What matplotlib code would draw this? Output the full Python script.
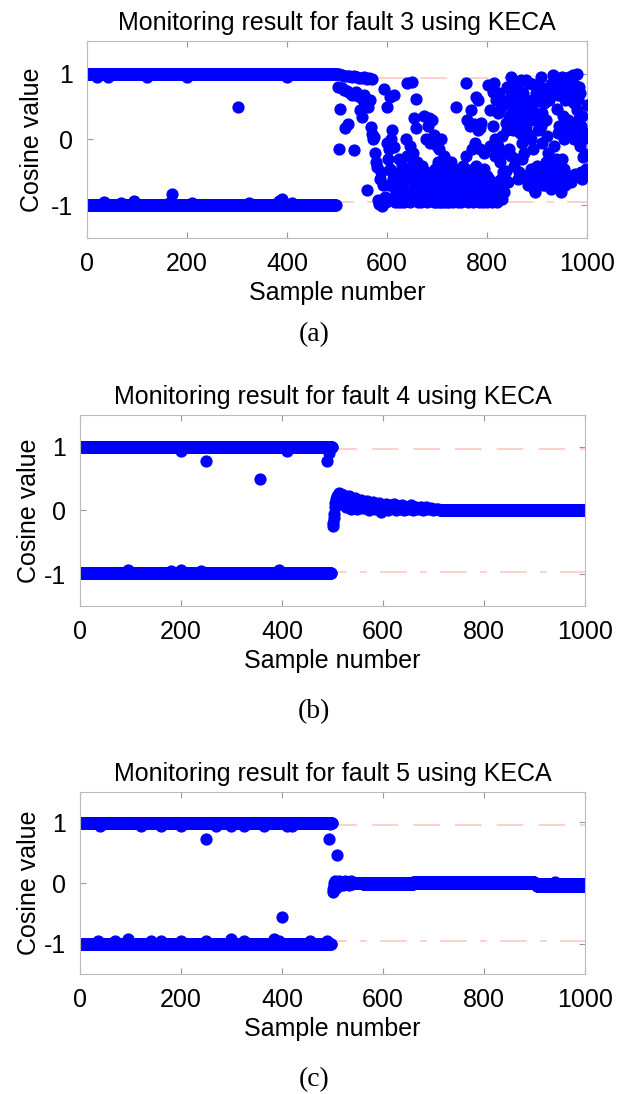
import numpy as np
import matplotlib
matplotlib.use("Agg")
import matplotlib.pyplot as plt

plt.rcParams['font.family'] = ['Liberation Sans', 'DejaVu Sans']
plt.rcParams['axes.unicode_minus'] = False

# ---- data (sample number, cosine value) ----
titles = ["Monitoring result for fault 3 using KECA",
          "Monitoring result for fault 4 using KECA",
          "Monitoring result for fault 5 using KECA"]
captions = ["(a)", "(b)", "(c)"]
limits = [(0.94, -0.95), (0.965, -0.968), (0.96, -0.96)]

# flat runs of points: (first sample, last sample, value)
fault3_bands = [(1, 500, 0.99), (1, 498, -1.0)]
fault4_bands = [(1, 500, 0.99), (1, 498, -0.99), (712, 1000, 0.015)]
fault5_bands = [(1, 500, 0.99), (1, 498, -1.0), (540, 900, 0.005),
                (560, 660, -0.02), (660, 900, 0.015), (900, 1000, -0.015),
                (905, 1000, -0.045)]

fault3_points = [
    (20, 0.95), (42, 0.95), (120, 0.95), (200, 0.95), (400, 0.95),
    (35, -0.95), (68, -0.96), (95, -0.94), (165, -0.96), (210, -0.96),
    (325, -0.96), (385, -0.94), (410, -0.96),
    (302, 0.49), (170, -0.83), (390, -0.90),
    (505, 0.99), (510, 0.98), (515, 0.97), (520, 0.97), (525, 0.96), (530, 0.95),
    (535, 0.96), (540, 0.95), (545, 0.94), (550, 0.93), (555, 0.95), (560, 0.92),
    (565, 0.93), (570, 0.92),
    (502, 0.80), (505, -0.14), (507, 0.47), (510, 0.78), (514, 0.75), (516, 0.17),
    (520, 0.73), (523, 0.24), (526, 0.70), (530, 0.68), (535, -0.16), (538, 0.72),
    (542, 0.66), (547, 0.45), (550, 0.34), (552, 0.60), (555, 0.68), (558, 0.55),
    (560, -0.77), (563, 0.50), (566, 0.60),
    (568, 0.19), (570, 0.08), (572, 0.0), (575, 0.04), (576, -0.2), (578, -0.35),
    (580, -0.42), (582, -0.92), (584, -0.98), (586, -0.6), (588, -0.5), (590, -1.02),
    (592, -0.7), (594, 0.76), (596, -0.88), (598, -0.95), (600, 0.5), (601, -0.05),
    (603, -0.3), (605, -0.15), (606, 0.65), (607, -0.45), (609, 0.0), (610, 0.14),
    (612, -0.6), (614, -0.11), (615, 0.67), (617, -0.75), (619, -0.85), (620, -0.55),
    (622, -0.95), (624, -0.3), (626, -0.7), (628, -0.88), (630, -0.4), (632, -0.65),
    (634, -0.95), (636, -0.8), (638, 0.0), (640, 0.86), (641, -0.25),
    (643, -0.5), (645, -0.6), (647, -0.1), (648, -0.9), (650, 0.88), (651, -0.4),
    (653, -0.75), (655, 0.32), (656, -0.85), (658, 0.62), (659, 0.17), (660, -0.35),
    (662, -0.95), (664, -0.65), (666, -0.45), (668, -0.8), (670, -0.55), (672, -0.92),
    (675, 0.35), (676, -0.7), (678, 0.0), (680, -0.6), (682, 0.2), (684, -0.88),
    (685, 0.32), (687, -0.05), (689, -0.75), (690, 0.3), (692, -0.5), (694, -0.95),
    (695, 0.07), (697, -0.65), (699, -0.85), (700, -0.1),
    (702, -0.35), (704, -0.95), (705, -0.15), (707, -0.6), (708, 0.0), (710, -0.8),
    (712, -0.45), (715, -0.25), (717, -0.9), (719, -0.7), (722, -0.4), (724, -0.55),
    (726, -0.85), (729, -0.35), (731, -0.65), (733, -0.95), (735, -0.45), (737, -0.75),
    (739, 0.5), (741, -0.6), (743, -0.88), (745, -0.5), (748, -0.7), (750, -0.8),
    (752, -0.4), (754, -0.92), (756, -0.6), (758, -0.25), (759, 0.86), (760, 0.3),
    (762, -0.7), (764, -0.85), (766, 0.2), (767, -0.5), (769, 0.45), (770, -0.15),
    (772, -0.95), (774, -0.6), (775, 0.24), (776, -0.05), (778, -0.4), (779, 0.65),
    (780, -0.85), (782, 0.6), (783, 0.15), (785, -0.65), (786, -0.15), (787, 0.17),
    (789, 0.25), (790, -0.5), (792, -0.75), (794, -0.2), (796, -0.6), (798, -0.9),
    (800, -0.55), (802, -0.85), (803, 0.83), (805, -0.7), (806, 0.45), (807, -0.1),
    (809, 0.82), (810, -0.95), (812, 0.2), (813, 0.72), (815, 0.86), (816, 0.0),
    (817, -0.25), (818, 0.6), (820, -0.95), (822, 0.4), (823, -0.1), (825, 0.7),
    (826, -0.35), (828, -0.6), (829, 0.5), (830, 0.05), (831, -0.9),
    (833, -0.5), (835, 0.55), (836, -0.2), (838, 0.25), (839, -0.48), (841, 0.15),
    (843, -0.65), (844, -0.15), (846, 0.75), (848, 0.95), (849, -0.25), (851, 0.5),
    (853, 0.3), (855, -0.4), (856, 0.7), (858, 0.85), (860, 0.45), (862, -0.6),
    (863, 0.25), (865, 0.75), (867, 0.6), (869, 0.4), (871, -0.05), (873, 0.55),
    (875, 0.35), (877, -0.55), (879, 0.2), (880, 0.1), (882, -0.7), (884, 0.86),
    (886, 0.5), (888, 0.0), (889, -0.45), (890, 0.85), (892, -0.6), (893, -0.15),
    (895, 0.42), (897, -0.8), (898, 0.7), (900, -0.4),
    (902, 0.58), (903, 0.15), (905, -0.5), (906, 0.8), (908, 0.95), (909, 0.2),
    (910, -0.05), (912, -0.7), (914, -0.55), (916, 0.72), (918, -0.35), (920, 0.05),
    (921, -0.6), (923, -0.2), (924, 0.8), (926, -0.45), (928, -0.75), (930, -0.4),
    (932, 0.98), (934, -0.1), (936, 0.92), (937, -0.65), (939, -0.3), (940, 0.47),
    (942, 0.1), (943, 0.67), (944, -0.55), (946, -0.32), (948, -0.8), (950, 0.95),
    (951, -0.3), (953, -0.5), (955, 0.0), (957, -0.7), (959, 0.9), (961, 0.75),
    (962, 0.3), (963, 0.05), (965, 0.95), (966, -0.55), (968, -0.65), (969, 0.85),
    (970, 0.7), (972, 0.98), (973, 0.25), (974, 0.55), (975, 0.0), (977, -0.52),
    (978, 0.82), (980, 1.0), (981, 0.45), (982, 0.3), (983, 0.62), (985, -0.55),
    (986, -0.1), (988, -0.49), (989, 0.2), (990, 0.35), (992, -0.26), (993, 0.0),
    (995, -0.5), (996, -0.22), (998, -0.45), (1000, 0.52),
    # extra readings in the crowded lower part
    (604, -0.7), (608, -0.9), (611, -0.5), (616, -0.95), (621, -0.75),
    (625, -0.55), (629, -0.95), (633, -0.5), (637, -0.6), (639, -0.9),
    (644, -0.8), (646, -0.95), (649, -0.55), (652, -0.2), (654, -0.6),
    (657, -0.5), (661, -0.7), (663, -0.85), (667, -0.6), (669, -0.95),
    (671, -0.4), (673, -0.7), (677, -0.85), (679, -0.5), (681, -0.95),
    (683, -0.7), (686, -0.6), (688, -0.9), (691, -0.8), (693, -0.65),
    (696, -0.45), (698, -0.95), (701, -0.7), (703, -0.55), (706, -0.85),
    (709, -0.95), (711, -0.6), (713, -0.75), (714, -0.95), (716, -0.55),
    (718, -0.8), (720, -0.95), (721, -0.6), (723, -0.75), (725, -0.95),
    (727, -0.55), (728, -0.7), (730, -0.85), (732, -0.5), (734, -0.6),
    (736, -0.9), (738, -0.65), (740, -0.8), (742, -0.95), (744, -0.7),
    (746, -0.85), (747, -0.6), (749, -0.95), (751, -0.65), (753, -0.75),
    (755, -0.85), (757, -0.5), (761, -0.6), (763, -0.95), (765, -0.75),
    (768, -0.65), (771, -0.8), (773, -0.45), (777, -0.75), (781, -0.7),
    (784, -0.95), (788, -0.85), (791, -0.65), (793, -0.95), (795, -0.45),
    (797, -0.75), (799, -0.65), (801, -0.95), (804, -0.6), (808, -0.8),
    (811, -0.7), (814, -0.85), (819, -0.8), (821, -0.65), (824, -0.75),
    (827, -0.85), (832, -0.7), (834, -0.8), (837, -0.6), (840, 0.8),
    (842, 0.6), (845, 0.35), (847, 0.55), (850, 0.8), (852, 0.15),
    (854, 0.65), (857, 0.2), (859, -0.3), (861, 0.8), (864, -0.5),
    (866, 0.1), (868, 0.9), (870, -0.3), (872, 0.7), (874, -0.2),
    (876, 0.6), (878, 0.9), (881, 0.45), (883, -0.55), (885, 0.3),
    (887, -0.65), (891, 0.6), (894, -0.75), (896, 0.3), (899, -0.55),
    (901, -0.7), (904, 0.65), (907, -0.6), (911, 0.4), (913, -0.45),
    (915, 0.55), (917, -0.7), (919, 0.3), (922, -0.5), (925, 0.6),
    (927, -0.6), (929, 0.85), (931, -0.55), (933, 0.75), (935, -0.45),
    (938, 0.85), (941, -0.65), (945, 0.2), (947, -0.6), (949, 0.8),
    (952, 0.35), (954, -0.45), (956, 0.6), (958, -0.55), (960, 0.15),
    (964, 0.8), (967, 0.6), (971, 0.9), (976, 0.75), (979, 0.15),
    (984, 0.8), (987, 0.7), (991, -0.6), (994, -0.55), (997, 0.1),
]

fault4_points = [
    (200, 0.94), (410, 0.94), (493, 0.90),
    (250, 0.77), (357, 0.49), (490, 0.77),
    (95, -0.94), (180, -0.95), (200, -0.94), (240, -0.95), (395, -0.94),
    (501, -0.25), (502, -0.2), (503, -0.12), (504, -0.05), (505, 0.05), (506, 0.12),
    (507, 0.18), (508, 0.22), (510, 0.25), (512, 0.27), (514, 0.2), (516, 0.26),
    (518, 0.15), (520, 0.24), (522, 0.1), (524, 0.22), (526, 0.05), (528, 0.2),
    (530, 0.12), (533, 0.22), (536, 0.03), (539, 0.18), (542, 0.08), (545, 0.2),
    (548, 0.02), (551, 0.15), (554, 0.1), (557, 0.17), (560, 0.04), (563, 0.14),
    (566, 0.07), (569, 0.15), (572, 0.0), (575, 0.12), (578, 0.05), (581, 0.13),
    (584, 0.02), (587, 0.1), (590, 0.06), (593, 0.12), (596, -0.02), (599, 0.09),
    (602, 0.03), (606, 0.1), (610, 0.0), (614, 0.08), (618, 0.04), (622, 0.1),
    (626, 0.01), (630, 0.07), (634, 0.03), (638, 0.09), (642, 0.0), (646, 0.06),
    (650, 0.02), (655, 0.08), (660, 0.01), (665, 0.06), (670, 0.02), (675, 0.05),
    (680, 0.01), (685, 0.05), (690, 0.02), (695, 0.04), (700, 0.01), (705, 0.03),
    (710, 0.02),
]

fault5_points = [
    (40, 0.94), (120, 0.94), (160, 0.94), (200, 0.94), (270, 0.94), (300, 0.94),
    (325, 0.94), (365, 0.94), (410, 0.94), (420, 0.94), (495, 0.97),
    (250, 0.73), (493, 0.73), (508, 0.47), (400, -0.56),
    (35, -0.95), (70, -0.95), (95, -0.93), (140, -0.95), (160, -0.95), (200, -0.95),
    (250, -0.95), (300, -0.93), (325, -0.95), (385, -0.93), (395, -0.95),
    (455, -0.95), (490, -0.95),
    (501, -0.15), (502, -0.1), (503, -0.05), (504, 0.0), (505, 0.03), (507, -0.08),
    (509, 0.02), (511, -0.05), (513, 0.04), (515, -0.03), (518, 0.02), (521, -0.04),
    (524, 0.03), (527, -0.02), (530, 0.02), (533, -0.03), (536, 0.03), (539, -0.01),
    (940, 0.02),
]

panels = [(fault3_bands, fault3_points), (fault4_bands, fault4_points),
          (fault5_bands, fault5_points)]

# axes boxes in figure fraction
boxes = [[0.1385, 0.7824, 0.796, 0.1803],
         [0.1274, 0.4461, 0.804, 0.1746],
         [0.1274, 0.1097, 0.804, 0.1663]]
ylabel_pads = [5, 2, 2]
caption_y = [1 - 335 / 1094, 1 - 712 / 1094, 1 - 1080 / 1094]

fig = plt.figure(figsize=(6.28, 10.94), dpi=100)

for i in range(3):
    bands, pts = panels[i]
    ax = fig.add_axes(boxes[i])
    up, lo = limits[i]
    ax.axhline(up, color='red', alpha=0.22, lw=1.2, dashes=(16, 9), zorder=1)
    ax.axhline(lo, color='red', alpha=0.22, lw=1.2, dashes=(16, 8, 4, 8), zorder=1)

    for start, end, val in bands:
        xs = np.arange(start, end + 1)
        ax.plot(xs, np.full(len(xs), val), 'o', color='blue', ms=7.8,
                mec='blue', zorder=2)
    px = [p[0] for p in pts]
    py = [p[1] for p in pts]
    ax.plot(px, py, 'o', color='blue', ms=7.8, mec='blue', zorder=3)

    ax.set_xlim(0, 1000)
    ax.set_ylim(-1.5, 1.5)
    ax.set_xticks([0, 200, 400, 600, 800, 1000])
    ax.set_yticks([-1, 0, 1])
    ax.tick_params(direction='in', top=True, right=True, length=4,
                   color='#999999', labelsize=18)
    ax.tick_params(axis='x', pad=10)
    ax.tick_params(axis='y', pad=10)
    for s in ax.spines.values():
        s.set_color('#bbbbbb')
    ax.set_title(titles[i], fontsize=18, pad=8)
    ax.set_xlabel('Sample number', fontsize=18, labelpad=4)
    ax.set_ylabel('Cosine value', fontsize=18, labelpad=ylabel_pads[i])
    fig.text(0.5, caption_y[i], captions[i], ha='center', va='center',
             fontsize=20, family='Liberation Serif')

plt.savefig('out.png', dpi=100)
